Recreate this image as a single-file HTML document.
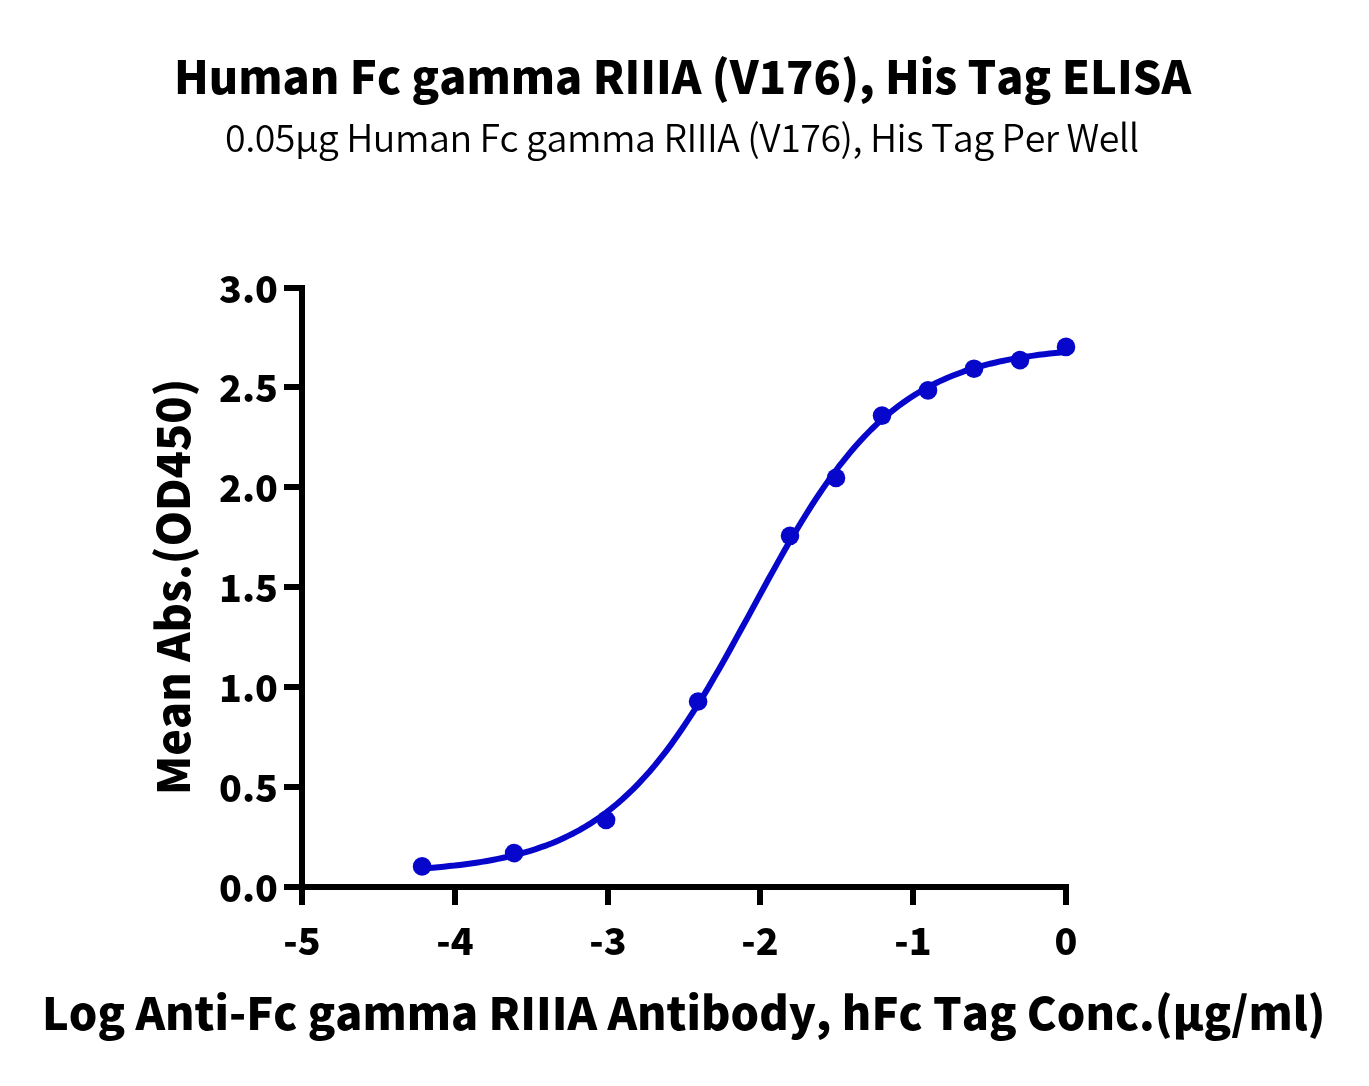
<!DOCTYPE html>
<html><head><meta charset="utf-8"><title>ELISA</title>
<style>
html,body{margin:0;padding:0;background:#fff;}
body{width:1369px;height:1086px;overflow:hidden;}
svg{display:block;}
text{font-kerning:none;font-family:"Noto Sans CJK SC","Source Han Sans SC","Liberation Sans",sans-serif;fill:#000;}
.b{font-weight:900;}
</style></head><body>
<svg width="1369" height="1086" viewBox="0 0 1369 1086">
<rect width="1369" height="1086" fill="#fff"/>
<text class="b" id="title" x="174" y="94.3" font-size="45.0">Human Fc gamma RIIIA (V176), His Tag ELISA</text>
<text id="sub" x="225" y="151.6" font-size="37.6" font-weight="350" letter-spacing="-0.5">0.05μg Human Fc gamma RIIIA (V176), His Tag Per Well</text>
<g fill="#000">
<rect x="299" y="285" width="6" height="605"/>
<rect x="299" y="884" width="770" height="6"/>
<rect x="284" y="884.0" width="16" height="6"/>
<rect x="284" y="784.0" width="16" height="6"/>
<rect x="284" y="684.0" width="16" height="6"/>
<rect x="284" y="584.0" width="16" height="6"/>
<rect x="284" y="484.0" width="16" height="6"/>
<rect x="284" y="384.0" width="16" height="6"/>
<rect x="284" y="285.0" width="16" height="6"/>
<rect x="299.0" y="889" width="6" height="16"/>
<rect x="452.0" y="889" width="6" height="16"/>
<rect x="605.0" y="889" width="6" height="16"/>
<rect x="757.0" y="889" width="6" height="16"/>
<rect x="910.0" y="889" width="6" height="16"/>
<rect x="1063.0" y="889" width="6" height="16"/>
</g>
<g class="b" font-size="37.6" id="yl">
<text x="278" y="901.9" text-anchor="end">0.0</text>
<text x="278" y="801.9" text-anchor="end">0.5</text>
<text x="278" y="701.9" text-anchor="end">1.0</text>
<text x="278" y="601.9" text-anchor="end">1.5</text>
<text x="278" y="501.9" text-anchor="end">2.0</text>
<text x="278" y="401.9" text-anchor="end">2.5</text>
<text x="278" y="302.9" text-anchor="end">3.0</text>
</g>
<g class="b" font-size="37.6" id="xl">
<text x="302.0" y="955.3" text-anchor="middle">-5</text>
<text x="455.0" y="955.3" text-anchor="middle">-4</text>
<text x="608.0" y="955.3" text-anchor="middle">-3</text>
<text x="760.0" y="955.3" text-anchor="middle">-2</text>
<text x="913.0" y="955.3" text-anchor="middle">-1</text>
<text x="1066.0" y="955.3" text-anchor="middle">0</text>
</g>
<text class="b" id="ylabel" font-size="44.85" transform="translate(190.3,795) rotate(-90)">Mean Abs.(OD450)</text>
<text class="b" id="xlabel" x="42" y="1030.2" font-size="44.92">Log Anti-Fc gamma RIIIA Antibody, hFc Tag Conc.(μg/ml)</text>
<path d="M422.1,868.5 L427.5,868.1 L432.9,867.7 L438.3,867.2 L443.7,866.7 L449.2,866.1 L454.6,865.6 L460.0,864.9 L465.4,864.2 L470.8,863.5 L476.2,862.7 L481.6,861.9 L487.0,861.0 L492.4,860.0 L497.9,858.9 L503.3,857.8 L508.7,856.6 L514.1,855.3 L519.5,853.9 L524.9,852.4 L530.3,850.8 L535.7,849.1 L541.1,847.2 L546.6,845.3 L552.0,843.2 L557.4,840.9 L562.8,838.5 L568.2,835.9 L573.6,833.2 L579.0,830.3 L584.4,827.2 L589.8,823.9 L595.3,820.3 L600.7,816.6 L606.1,812.6 L611.5,808.4 L616.9,804.0 L622.3,799.3 L627.7,794.3 L633.1,789.1 L638.5,783.6 L643.9,777.8 L649.4,771.7 L654.8,765.4 L660.2,758.7 L665.6,751.8 L671.0,744.6 L676.4,737.1 L681.8,729.3 L687.2,721.2 L692.6,712.9 L698.1,704.4 L703.5,695.6 L708.9,686.6 L714.3,677.3 L719.7,667.9 L725.1,658.4 L730.5,648.7 L735.9,638.9 L741.3,629.0 L746.8,619.1 L752.2,609.1 L757.6,599.1 L763.0,589.2 L768.4,579.3 L773.8,569.6 L779.2,559.9 L784.6,550.3 L790.0,540.9 L795.5,531.7 L800.9,522.7 L806.3,514.0 L811.7,505.4 L817.1,497.1 L822.5,489.1 L827.9,481.4 L833.3,473.9 L838.7,466.7 L844.2,459.8 L849.6,453.2 L855.0,446.8 L860.4,440.8 L865.8,435.0 L871.2,429.5 L876.6,424.3 L882.0,419.4 L887.4,414.7 L892.9,410.3 L898.3,406.1 L903.7,402.2 L909.1,398.5 L914.5,395.0 L919.9,391.7 L925.3,388.6 L930.7,385.7 L936.1,383.0 L941.5,380.4 L947.0,378.0 L952.4,375.8 L957.8,373.7 L963.2,371.7 L968.6,369.9 L974.0,368.2 L979.4,366.6 L984.8,365.1 L990.2,363.7 L995.7,362.5 L1001.1,361.2 L1006.5,360.1 L1011.9,359.1 L1017.3,358.1 L1022.7,357.2 L1028.1,356.4 L1033.5,355.6 L1038.9,354.8 L1044.4,354.2 L1049.8,353.5 L1055.2,353.0 L1060.6,352.4 L1066.0,351.9" fill="none" stroke="#0707cc" stroke-width="6" stroke-linecap="round" stroke-linejoin="round"/>
<g fill="#0707cc">
<circle cx="422.1" cy="866.4" r="9.3"/>
<circle cx="514.1" cy="853.1" r="9.3"/>
<circle cx="606.1" cy="820.0" r="9.3"/>
<circle cx="698.1" cy="701.5" r="9.3"/>
<circle cx="790.0" cy="535.8" r="9.3"/>
<circle cx="836.0" cy="477.9" r="9.3"/>
<circle cx="882.0" cy="415.6" r="9.3"/>
<circle cx="928.0" cy="390.4" r="9.3"/>
<circle cx="974.0" cy="368.7" r="9.3"/>
<circle cx="1020.0" cy="360.1" r="9.3"/>
<circle cx="1066.0" cy="346.9" r="9.3"/>
</g>
</svg>
</body></html>
